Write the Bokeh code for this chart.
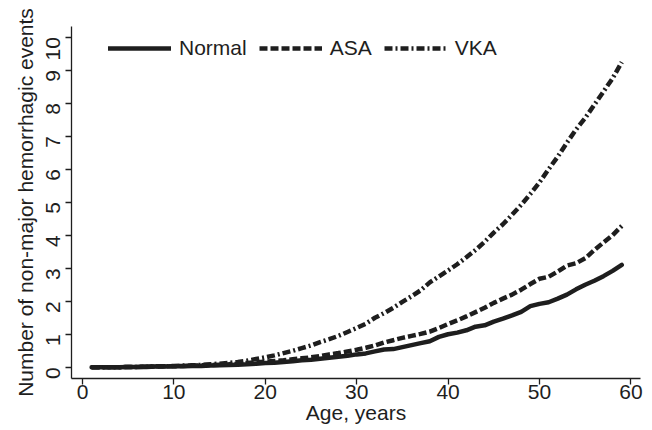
import math
from bokeh.plotting import figure
from bokeh.models import Range1d, Legend, LegendItem, FixedTicker
from bokeh.embed import file_html
from bokeh.resources import INLINE

ages = list(range(1, 60))

normal = [0.0, 0.0, 0.0, 0.0, 0.01, 0.01, 0.01, 0.02, 0.02, 0.03,
          0.03, 0.04, 0.04, 0.05, 0.06, 0.07, 0.08, 0.09, 0.11, 0.13,
          0.14, 0.16, 0.18, 0.21, 0.23, 0.26, 0.29, 0.32, 0.35, 0.39,
          0.42, 0.48, 0.54, 0.55, 0.61, 0.67, 0.73, 0.79, 0.92, 1.00,
          1.05, 1.12, 1.23, 1.27, 1.38, 1.47, 1.57, 1.68, 1.85, 1.92,
          1.97, 2.08, 2.20, 2.36, 2.50, 2.62, 2.76, 2.92, 3.10]

asa = [0.0, 0.0, 0.0, 0.0, 0.01, 0.01, 0.02, 0.02, 0.03, 0.03,
       0.04, 0.05, 0.06, 0.07, 0.08, 0.09, 0.11, 0.13, 0.15, 0.17,
       0.19, 0.21, 0.24, 0.27, 0.30, 0.34, 0.39, 0.43, 0.48, 0.53,
       0.59, 0.66, 0.75, 0.82, 0.89, 0.95, 1.01, 1.08, 1.19, 1.31,
       1.42, 1.54, 1.67, 1.80, 1.95, 2.08, 2.20, 2.35, 2.52, 2.68,
       2.74, 2.90, 3.08, 3.15, 3.30, 3.55, 3.78, 4.00, 4.28]

vka = [0.0, 0.0, 0.0, 0.0, 0.01, 0.01, 0.02, 0.03, 0.03, 0.04,
       0.05, 0.06, 0.07, 0.09, 0.11, 0.13, 0.16, 0.20, 0.25, 0.30,
       0.36, 0.43, 0.50, 0.58, 0.66, 0.76, 0.85, 0.95, 1.07, 1.19,
       1.32, 1.50, 1.64, 1.80, 1.98, 2.15, 2.33, 2.57, 2.75, 2.93,
       3.12, 3.33, 3.55, 3.80, 4.08, 4.33, 4.62, 4.92, 5.25, 5.60,
       6.00, 6.38, 6.80, 7.20, 7.55, 7.95, 8.35, 8.75, 9.24]

x_ticks = [0, 10, 20, 30, 40, 50, 60]
y_ticks = [0, 1, 2, 3, 4, 5, 6, 7, 8, 9, 10]

FONT = "Liberation Sans"
INK = "#1e1e1e"
FS = "21px"

p = figure(width=652, height=430, output_backend="svg", toolbar_location=None,
           x_range=Range1d(-1.2, 61.05), y_range=Range1d(-0.34, 10.32),
           min_border_left=71, min_border_right=12, min_border_top=26,
           min_border_bottom=52)
p.outline_line_color = None
p.xgrid.visible = False
p.ygrid.visible = False
p.background_fill_color = "white"
p.border_fill_color = "white"

for ax in (p.xaxis[0], p.yaxis[0]):
    ax.axis_line_color = INK
    ax.axis_line_width = 1.3
    ax.major_tick_line_color = INK
    ax.major_tick_line_width = 1.3
    ax.major_tick_out = 6
    ax.major_tick_in = 0
    ax.minor_tick_line_color = None
    ax.major_label_text_font = FONT
    ax.major_label_text_font_size = FS
    ax.major_label_text_color = INK
    ax.axis_label_text_font = FONT
    ax.axis_label_text_font_size = FS
    ax.axis_label_text_font_style = "normal"
    ax.axis_label_text_color = INK

p.xaxis[0].ticker = FixedTicker(ticks=x_ticks)
p.yaxis[0].ticker = FixedTicker(ticks=y_ticks)
p.xaxis[0].major_label_standoff = 0
p.xaxis[0].axis_label_standoff = -1
p.yaxis[0].major_label_standoff = 12
p.yaxis[0].axis_label_standoff = 0
p.yaxis[0].major_label_orientation = math.pi / 2
p.xaxis[0].axis_label = "Age, years"
p.yaxis[0].axis_label = "Number of non-major hemorrhagic events"

r_n = p.line(ages, normal, line_color=INK, line_width=4.5, line_cap="round", line_join="round")
r_a = p.line(ages, asa, line_color=INK, line_width=4.5, line_dash="8 3", line_join="round")
r_v = p.line(ages, vka, line_color=INK, line_width=4.5, line_dash="8 3 2 3", line_join="round")

legend = Legend(items=[LegendItem(label="Normal", renderers=[r_n]),
                       LegendItem(label="ASA", renderers=[r_a]),
                       LegendItem(label="VKA", renderers=[r_v])],
                orientation="horizontal", location=(37, 318),
                glyph_width=63, glyph_height=20, label_standoff=8, spacing=12,
                padding=0, margin=0, border_line_color=None,
                background_fill_alpha=0,
                label_text_font=FONT, label_text_font_size=FS,
                label_text_color=INK)
p.add_layout(legend, "center")

open("out.html", "w").write(file_html(p, INLINE))
